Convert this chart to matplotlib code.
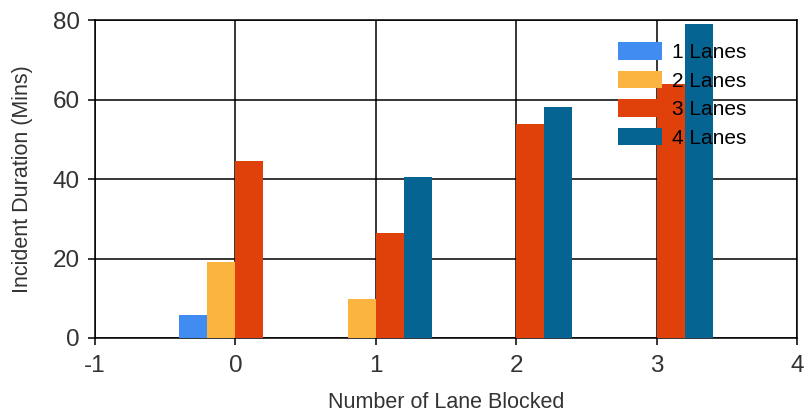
import numpy as np
import matplotlib
matplotlib.use('Agg')
import matplotlib.pyplot as plt

# Data
lanes_blocked = [0, 1, 2, 3]
series_names = ['1 Lanes', '2 Lanes', '3 Lanes', '4 Lanes']
one_lane = [5.8, 0, 0, 0]
two_lanes = [19.0, 9.8, 0, 0]
three_lanes = [44.6, 26.5, 53.8, 63.9]
four_lanes = [0, 40.6, 58.2, 79.0]
colors = ['#418CF0', '#FCB441', '#E0400A', '#056492']

plt.rcParams['font.family'] = ['Liberation Sans', 'DejaVu Sans']
plt.rcParams['axes.unicode_minus'] = False

fig = plt.figure(figsize=(8.08, 4.18), dpi=100)
ax = fig.add_axes([0.1176, 0.1914, 0.8688, 0.7606])

x = np.array(lanes_blocked)
width = 0.2
all_series = [one_lane, two_lanes, three_lanes, four_lanes]
for i, (vals, name, c) in enumerate(zip(all_series, series_names, colors)):
    ax.bar(x + (i - 1.5) * width, vals, width, color=c, label=name, zorder=3)

ax.set_xlim(-1, 4)
ax.set_ylim(0, 80)
ax.set_xticks([-1, 0, 1, 2, 3, 4])
ax.set_yticks([0, 20, 40, 60, 80])
ax.grid(True, color='black', linewidth=1.1, zorder=0)
ax.set_axisbelow(True)
for s in ax.spines.values():
    s.set_color('black')
    s.set_linewidth(1.1)
ax.tick_params(axis='both', labelsize=17.5, length=5, width=1.1, color='black',
               labelcolor='#333333')
ax.tick_params(axis='x', pad=7)
ax.tick_params(axis='y', pad=6)

ax.set_xlabel('Number of Lane Blocked', fontsize=15.5, color='#333333', labelpad=11)
ax.set_ylabel('Incident Duration (Mins)', fontsize=15.5, color='#333333', labelpad=14)

leg = ax.legend(loc='upper left', bbox_to_anchor=(0.745, 0.93), frameon=False,
                fontsize=15, handlelength=2.1, handleheight=0.9,
                labelspacing=0.42, handletextpad=0.5, borderpad=0, borderaxespad=0)
leg.set_zorder(5)

fig.savefig('out.png', dpi=100)
